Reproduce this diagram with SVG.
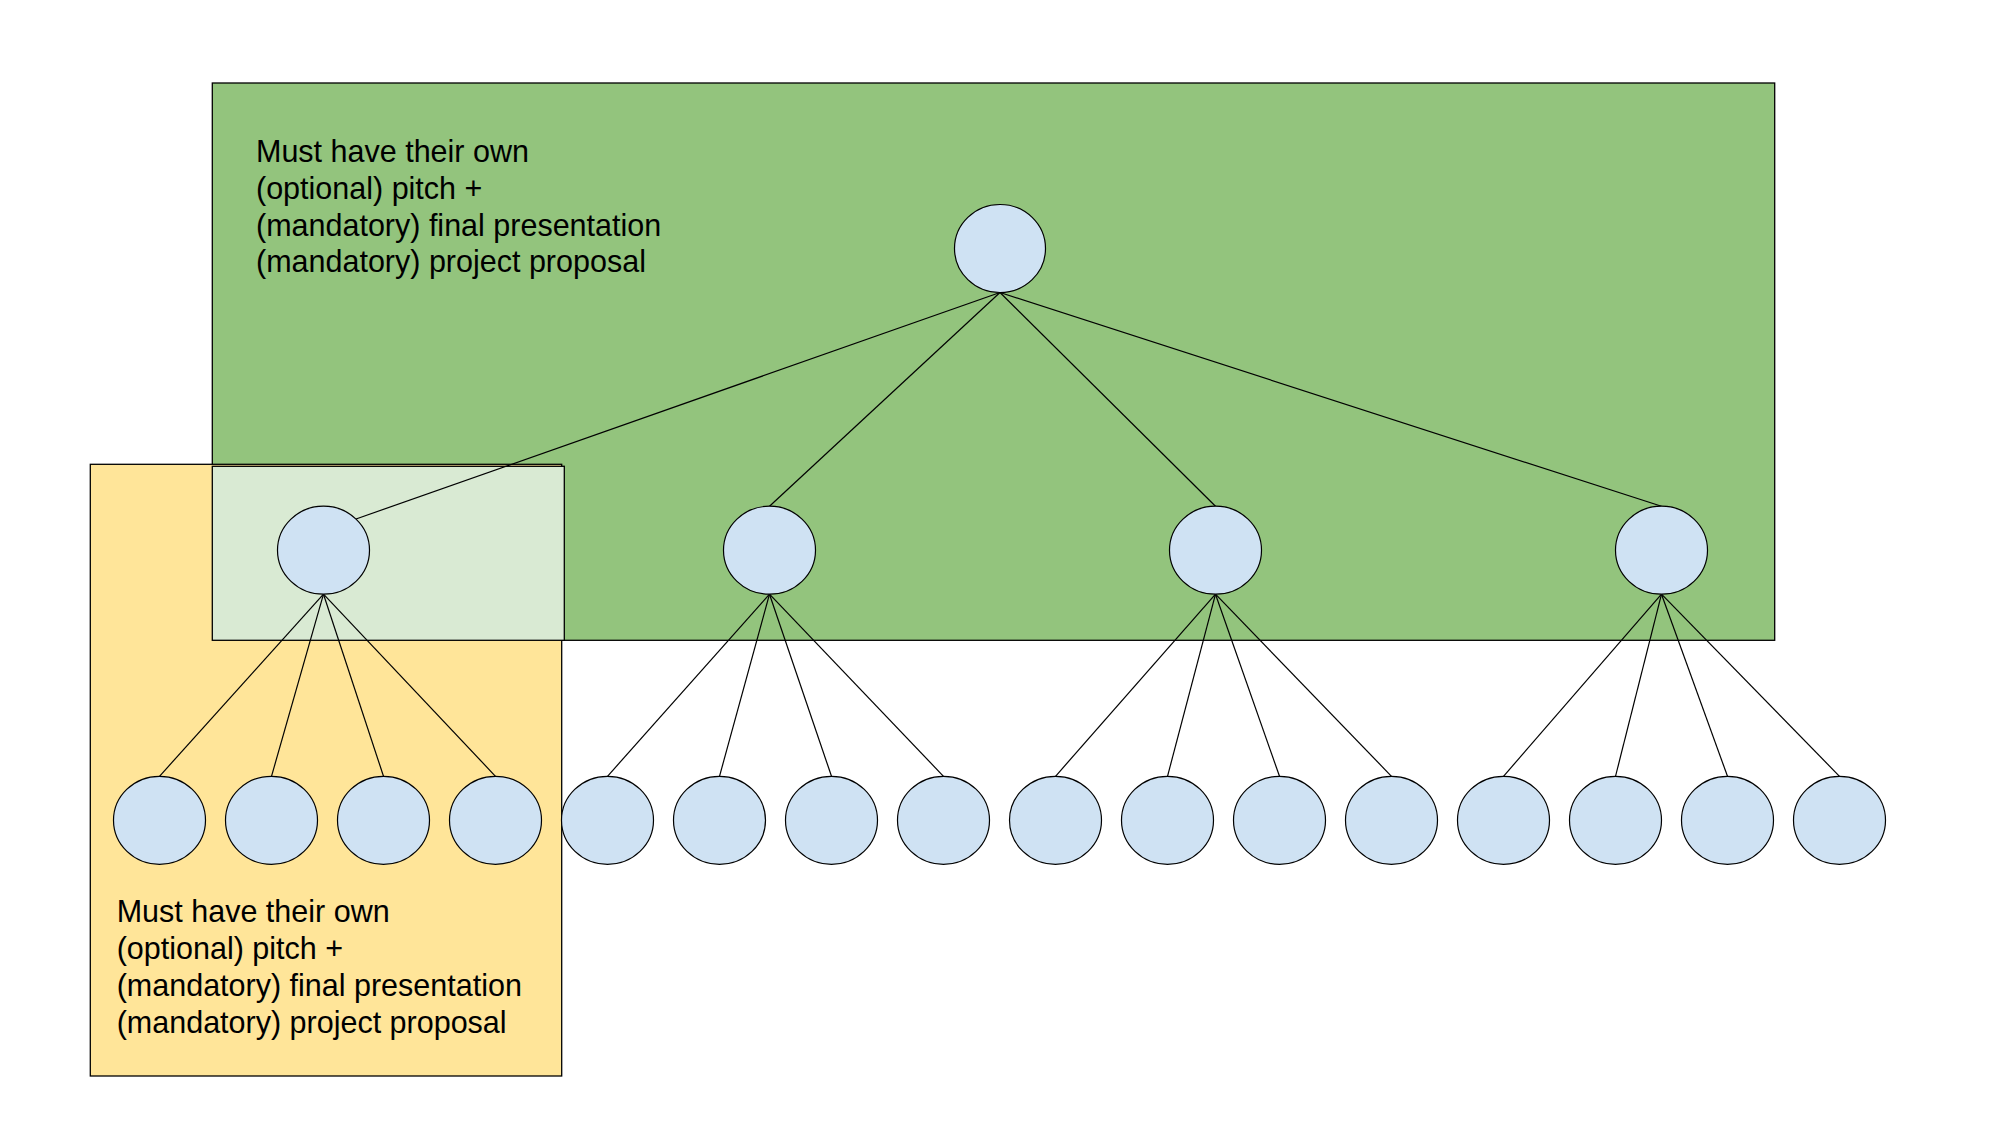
<svg xmlns="http://www.w3.org/2000/svg" width="2000" height="1144" viewBox="0 0 2000 1144">
<style>
.box{stroke:#000;stroke-width:1.3}
.node{fill:#cfe2f3;stroke:#000;stroke-width:1.2}
.edge{stroke:#000;stroke-width:1.2;fill:none}
.lbl{font-family:"Liberation Sans",Arial,sans-serif;font-size:30.5px;fill:#000}
</style>
<rect width="2000" height="1144" fill="#fff"/>
<g id="green-area">
<rect class="box" x="212.3" y="83" width="1562.4" height="557.3" fill="#93c47d"/>
<text class="lbl" x="256" y="162.3">Must have their own</text>
<text class="lbl" x="256" y="199">(optional) pitch +</text>
<text class="lbl" x="256" y="235.7">(mandatory) final presentation</text>
<text class="lbl" x="256" y="272.4">(mandatory) project proposal</text>
</g>
<g id="yellow-area">
<rect class="box" x="90.3" y="464.3" width="471.4" height="611.7" fill="#ffe599"/>
<text class="lbl" x="116.7" y="922.3">Must have their own</text>
<text class="lbl" x="116.7" y="959">(optional) pitch +</text>
<text class="lbl" x="116.7" y="995.9">(mandatory) final presentation</text>
<text class="lbl" x="116.7" y="1032.7">(mandatory) project proposal</text>
</g>
<g id="overlap-area">
<rect class="box" x="212.3" y="466.3" width="352" height="174" fill="#d9ead3"/>
</g>
<g id="connectors">
<line class="edge" x1="1000" y1="292.5" x2="356" y2="519"/>
<line class="edge" x1="1000" y1="292.5" x2="769.5" y2="506.3"/>
<line class="edge" x1="1000" y1="292.5" x2="1215.5" y2="506.3"/>
<line class="edge" x1="1000" y1="292.5" x2="1661.5" y2="506.3"/>
<line class="edge" x1="323.5" y1="594.2" x2="159.5" y2="776.3"/>
<line class="edge" x1="323.5" y1="594.2" x2="271.5" y2="776.3"/>
<line class="edge" x1="323.5" y1="594.2" x2="383.5" y2="776.3"/>
<line class="edge" x1="323.5" y1="594.2" x2="495.5" y2="776.3"/>
<line class="edge" x1="769.5" y1="594.2" x2="607.5" y2="776.3"/>
<line class="edge" x1="769.5" y1="594.2" x2="719.5" y2="776.3"/>
<line class="edge" x1="769.5" y1="594.2" x2="831.5" y2="776.3"/>
<line class="edge" x1="769.5" y1="594.2" x2="943.5" y2="776.3"/>
<line class="edge" x1="1215.5" y1="594.2" x2="1055.5" y2="776.3"/>
<line class="edge" x1="1215.5" y1="594.2" x2="1167.5" y2="776.3"/>
<line class="edge" x1="1215.5" y1="594.2" x2="1279.5" y2="776.3"/>
<line class="edge" x1="1215.5" y1="594.2" x2="1391.5" y2="776.3"/>
<line class="edge" x1="1661.5" y1="594.2" x2="1503.5" y2="776.3"/>
<line class="edge" x1="1661.5" y1="594.2" x2="1615.5" y2="776.3"/>
<line class="edge" x1="1661.5" y1="594.2" x2="1727.5" y2="776.3"/>
<line class="edge" x1="1661.5" y1="594.2" x2="1839.5" y2="776.3"/>
</g>
<g id="root"><ellipse class="node" cx="1000" cy="248.5" rx="45.5" ry="44"/></g>
<g id="l2-1"><ellipse class="node" cx="323.5" cy="550.2" rx="46" ry="44"/></g>
<g id="l2-2"><ellipse class="node" cx="769.5" cy="550.2" rx="46" ry="44"/></g>
<g id="l2-3"><ellipse class="node" cx="1215.5" cy="550.2" rx="46" ry="44"/></g>
<g id="l2-4"><ellipse class="node" cx="1661.5" cy="550.2" rx="46" ry="44"/></g>
<g id="l3-1"><ellipse class="node" cx="159.5" cy="820.3" rx="46" ry="44"/></g>
<g id="l3-2"><ellipse class="node" cx="271.5" cy="820.3" rx="46" ry="44"/></g>
<g id="l3-3"><ellipse class="node" cx="383.5" cy="820.3" rx="46" ry="44"/></g>
<g id="l3-4"><ellipse class="node" cx="495.5" cy="820.3" rx="46" ry="44"/></g>
<g id="l3-5"><ellipse class="node" cx="607.5" cy="820.3" rx="46" ry="44"/></g>
<g id="l3-6"><ellipse class="node" cx="719.5" cy="820.3" rx="46" ry="44"/></g>
<g id="l3-7"><ellipse class="node" cx="831.5" cy="820.3" rx="46" ry="44"/></g>
<g id="l3-8"><ellipse class="node" cx="943.5" cy="820.3" rx="46" ry="44"/></g>
<g id="l3-9"><ellipse class="node" cx="1055.5" cy="820.3" rx="46" ry="44"/></g>
<g id="l3-10"><ellipse class="node" cx="1167.5" cy="820.3" rx="46" ry="44"/></g>
<g id="l3-11"><ellipse class="node" cx="1279.5" cy="820.3" rx="46" ry="44"/></g>
<g id="l3-12"><ellipse class="node" cx="1391.5" cy="820.3" rx="46" ry="44"/></g>
<g id="l3-13"><ellipse class="node" cx="1503.5" cy="820.3" rx="46" ry="44"/></g>
<g id="l3-14"><ellipse class="node" cx="1615.5" cy="820.3" rx="46" ry="44"/></g>
<g id="l3-15"><ellipse class="node" cx="1727.5" cy="820.3" rx="46" ry="44"/></g>
<g id="l3-16"><ellipse class="node" cx="1839.5" cy="820.3" rx="46" ry="44"/></g>
</svg>
